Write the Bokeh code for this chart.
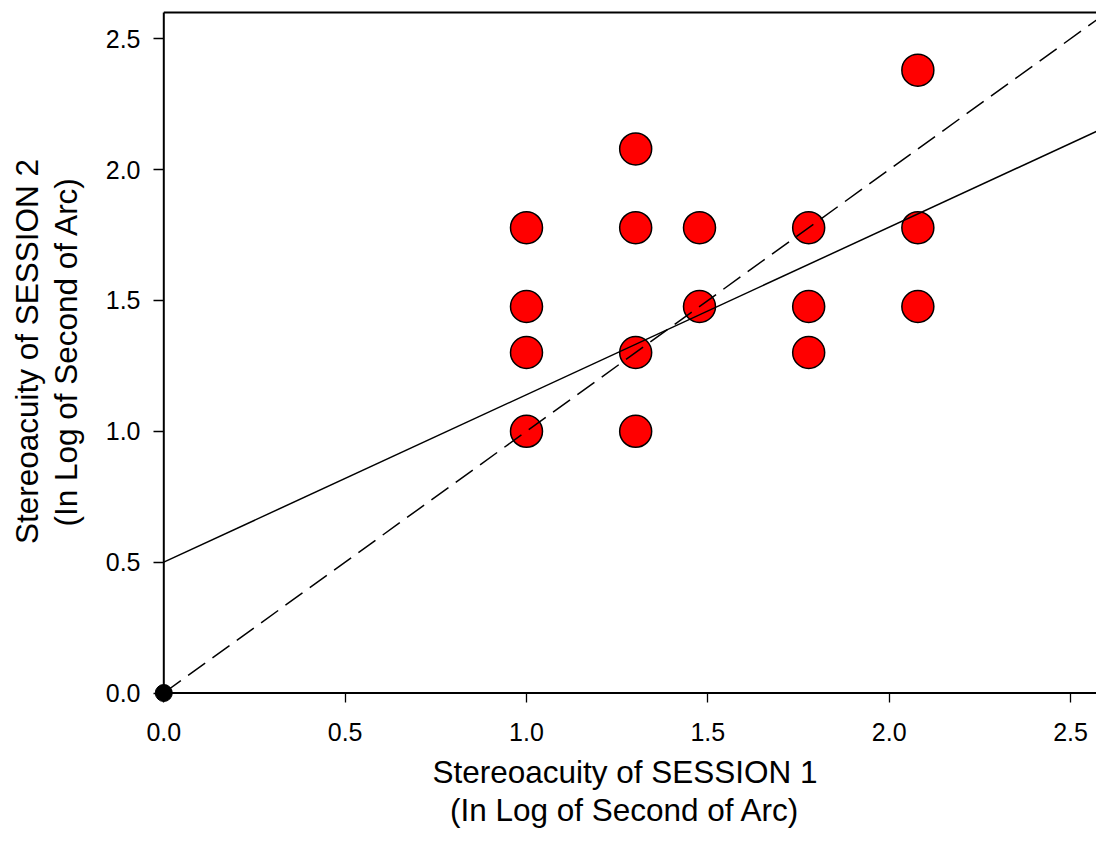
from bokeh.plotting import figure
from bokeh.models import Range1d, FixedTicker, PrintfTickFormatter
from bokeh.embed import file_html
from bokeh.resources import INLINE

# ---------------- data ----------------
session1 = [1.000, 1.000, 1.000, 1.000,
            1.301, 1.301, 1.301, 1.301,
            1.477, 1.477,
            1.778, 1.778, 1.778,
            2.079, 2.079, 2.079]
session2 = [1.000, 1.301, 1.477, 1.778,
            1.000, 1.301, 1.778, 2.079,
            1.477, 1.778,
            1.301, 1.477, 1.778,
            1.477, 1.778, 2.380]
fit_intercept = 0.50
fit_slope = 0.64
axis_max = 2.6
tick_values = [0.0, 0.5, 1.0, 1.5, 2.0, 2.5]
x_title = ["Stereoacuity of SESSION 1", "(In Log of Second of Arc)"]
y_title = ["Stereoacuity of SESSION 2", "(In Log of Second of Arc)"]

# ---------------- layout ----------------
FIG_W, FIG_H = 1096, 829
FRAME_L, FRAME_T = 153, 0
FRAME_W, FRAME_H = FIG_W - FRAME_L, 702
X0, KX = 163.3, 362.7      # pixel of data x=0, pixels per unit
Y0, KY = 692.5, 261.7      # pixel of data y=0, pixels per unit

x_start = (FRAME_L - X0) / KX
x_end = (FRAME_L + FRAME_W - X0) / KX
y_end = (Y0 - FRAME_T) / KY
y_start = (Y0 - (FRAME_T + FRAME_H)) / KY

FONT = "Liberation Sans"

p = figure(frame_width=FRAME_W, frame_height=FRAME_H,
           min_border_left=FRAME_L, min_border_right=0,
           min_border_top=FRAME_T, min_border_bottom=FIG_H - FRAME_H,
           x_range=Range1d(x_start, x_end), y_range=Range1d(y_start, y_end),
           output_backend="svg", toolbar_location=None)
p.outline_line_color = None
p.grid.visible = False
p.background_fill_color = "white"
p.border_fill_color = "white"

for ax in (p.xaxis[0], p.yaxis[0]):
    ax.bounds = (0, axis_max)
    ax.ticker = FixedTicker(ticks=tick_values)
    ax.formatter = PrintfTickFormatter(format="%.1f")
    ax.axis_line_color = None
    ax.major_tick_line_width = 1.3
    ax.major_tick_line_color = "black"
    ax.major_tick_in = 10
    ax.major_tick_out = 0
    ax.minor_tick_in = 0
    ax.minor_tick_out = 0
    ax.major_label_text_font = FONT
    ax.major_label_text_font_size = "25px"
    ax.major_label_text_color = "black"
    ax.axis_label_text_font = FONT
    ax.axis_label_text_font_size = "31.5px"
    ax.axis_label_text_font_style = "normal"
    ax.axis_label_text_color = "black"
    ax.axis_label_text_line_height = 1.08

p.xaxis[0].major_label_standoff = 20
p.yaxis[0].major_label_standoff = 13
p.xaxis[0].axis_label = "\n".join(x_title)
p.yaxis[0].axis_label = "\n".join(y_title)
p.xaxis[0].axis_label_standoff = 10
p.yaxis[0].axis_label_standoff = 19

# points
p.scatter(session1, session2, size=32, fill_color="#FF0000",
          line_color="black", line_width=1.5)

# regression line
p.line([0, axis_max], [fit_intercept, fit_intercept + fit_slope * axis_max],
       line_color="black", line_width=1.5)

# identity line
p.line([0, axis_max], [0, axis_max], line_color="black", line_width=1.5,
       line_dash="21 9")

# axis lines and top border
p.line([0, 0], [0, axis_max], line_color="black", line_width=2)
p.line([0, axis_max], [0, 0], line_color="black", line_width=2)
p.line([0, axis_max], [axis_max, axis_max], line_color="black", line_width=2)

# end points of the identity line
p.scatter([0, axis_max], [0, axis_max], size=17, fill_color="black",
          line_color="black")

open("out.html", "w").write(file_html(p, INLINE))
